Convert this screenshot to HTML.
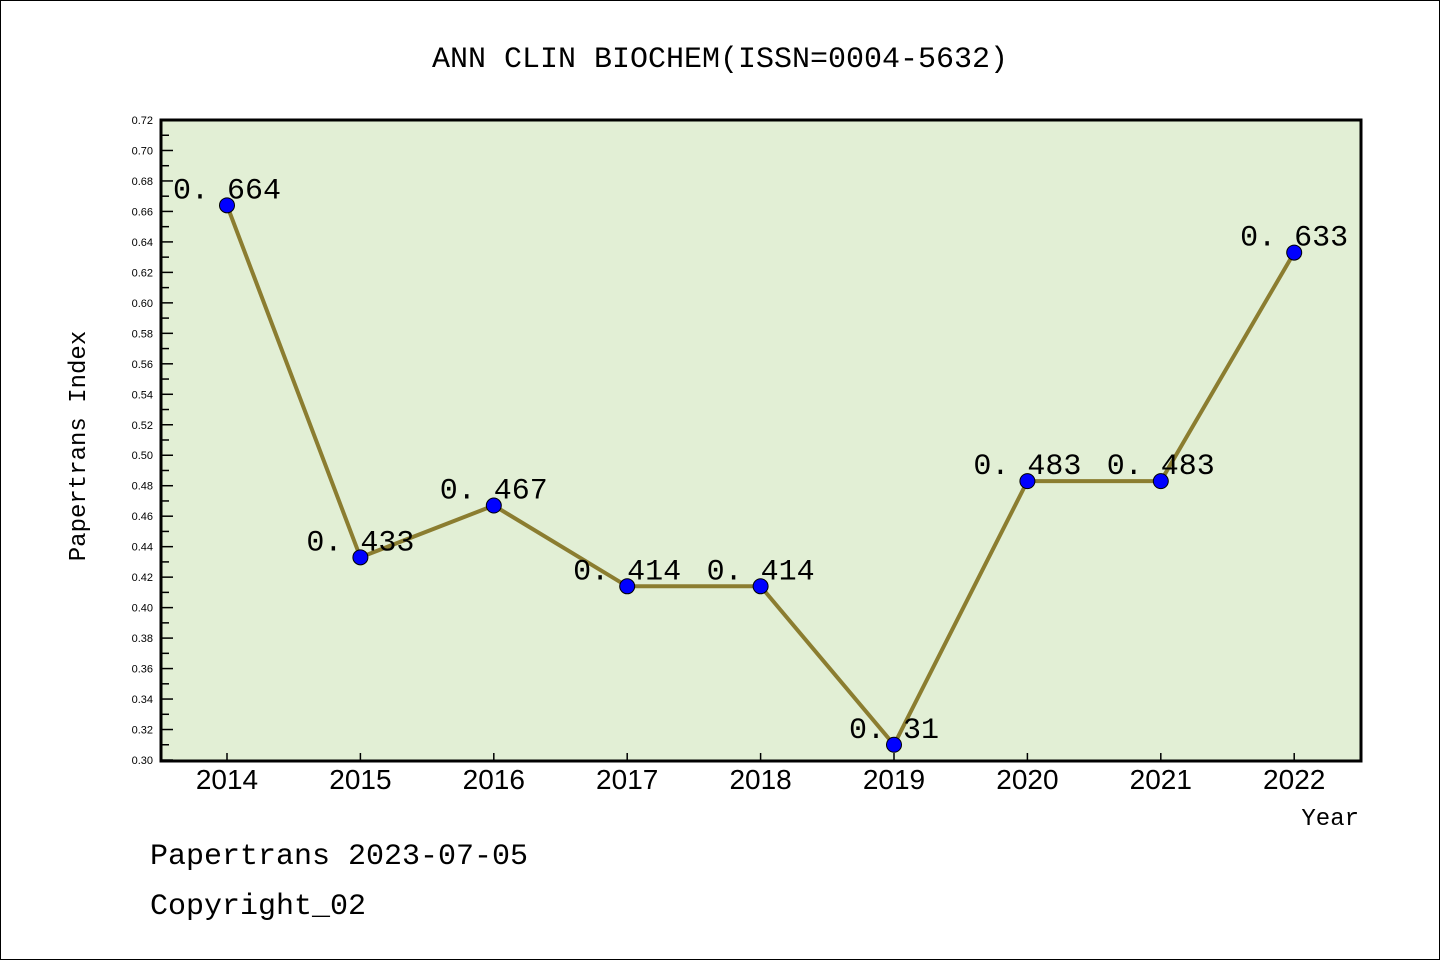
<!DOCTYPE html>
<html><head><meta charset="utf-8"><style>
html,body{margin:0;padding:0;background:#fff}
svg{display:block}
text{font-family:"Liberation Sans","WenQuanYi Zen Hei",sans-serif}
.mono{font-family:"Liberation Mono","WenQuanYi Zen Hei",monospace}
</style></head><body>
<svg id="chart" width="1440" height="960" xmlns="http://www.w3.org/2000/svg">
<rect x="0.5" y="0.5" width="1439" height="959" fill="#fff" stroke="#000"/>
<text x="720" y="67" text-anchor="middle" font-size="30" class="mono">ANN CLIN BIOCHEM(ISSN=0004-5632)</text>
<rect x="161" y="120" width="1200" height="641" fill="#e2efd5"/>
<g id="axes"></g>
<g id="series"></g>
<rect x="161" y="120" width="1200" height="641" fill="none" stroke="#000" stroke-width="3"/>
<text transform="translate(85,446) rotate(-90)" text-anchor="middle" font-size="24" class="mono">Papertrans Index</text>
<text x="1359" y="825" text-anchor="end" font-size="24" class="mono">Year</text>
<text x="150" y="864" font-size="30" class="mono">Papertrans 2023-07-05</text>
<text x="150" y="914" font-size="30" class="mono">Copyright_02</text>
</svg>
<script>
const years=["2014","2015","2016","2017","2018","2019","2020","2021","2022"];
const values=[0.664,0.433,0.467,0.414,0.414,0.31,0.483,0.483,0.633];
const valueLabels=["0.664","0.433","0.467","0.414","0.414","0.31","0.483","0.483","0.633"];
const yTicks=["0.30","0.32","0.34","0.36","0.38","0.40","0.42","0.44","0.46","0.48","0.50","0.52","0.54","0.56","0.58","0.60","0.62","0.64","0.66","0.68","0.70","0.72"];
const NS="http://www.w3.org/2000/svg";
const yMin=0.30,yMax=0.72,yTop=120,yBot=760,xLeft=161;
const yScale=v=>yBot-(v-yMin)/(yMax-yMin)*(yBot-yTop);
const xScale=i=>227+i*133.4;
function mk(t,a,p){const e=document.createElementNS(NS,t);for(const k in a)e.setAttribute(k,a[k]);p.appendChild(e);return e;}
const ax=document.getElementById('axes'),se=document.getElementById('series');
yTicks.forEach((t,i)=>{
  const v=parseFloat(t),yy=yScale(v);
  const l=mk('line',{x1:xLeft,x2:xLeft+12,y1:yy,y2:yy,stroke:'#000','stroke-width':1.5},ax);
  
  
  const tx=mk('text',{x:153,y:yy+4,'text-anchor':'end','font-size':11},ax);
  
  
  tx.textContent=t;
  if(i<yTicks.length-1){const ym=yScale(v+0.01);
    const m=mk('line',{x1:xLeft,x2:xLeft+8,y1:ym,y2:ym,stroke:'#000','stroke-width':1.5},ax);
    
    }
});
years.forEach((t,i)=>{
  const xx=xScale(i);
  const l=mk('line',{x1:xx,x2:xx,y1:yBot,y2:yBot-7,stroke:'#000','stroke-width':1.5},ax);
  
  
  const tx=mk('text',{x:xx,y:789,'text-anchor':'middle','font-size':28},ax);
  
  
  tx.textContent=t;
});
const pl=mk('polyline',{points:values.map((v,i)=>xScale(i)+','+yScale(v)).join(' '),fill:'none',stroke:'#8b7d30','stroke-width':4},se);


values.forEach((v,i)=>{
  const c=mk('circle',{cx:xScale(i),cy:yScale(v),r:7.5,fill:'#0000ff',stroke:'#000','stroke-width':1},se);
  
  
  const tx=mk('text',{x:xScale(i),y:yScale(v)-7,'text-anchor':'middle','font-size':30,class:'mono'},se);
  
  
  tx.textContent=valueLabels[i].replace('.','. ');
});
</script>
</body></html>
